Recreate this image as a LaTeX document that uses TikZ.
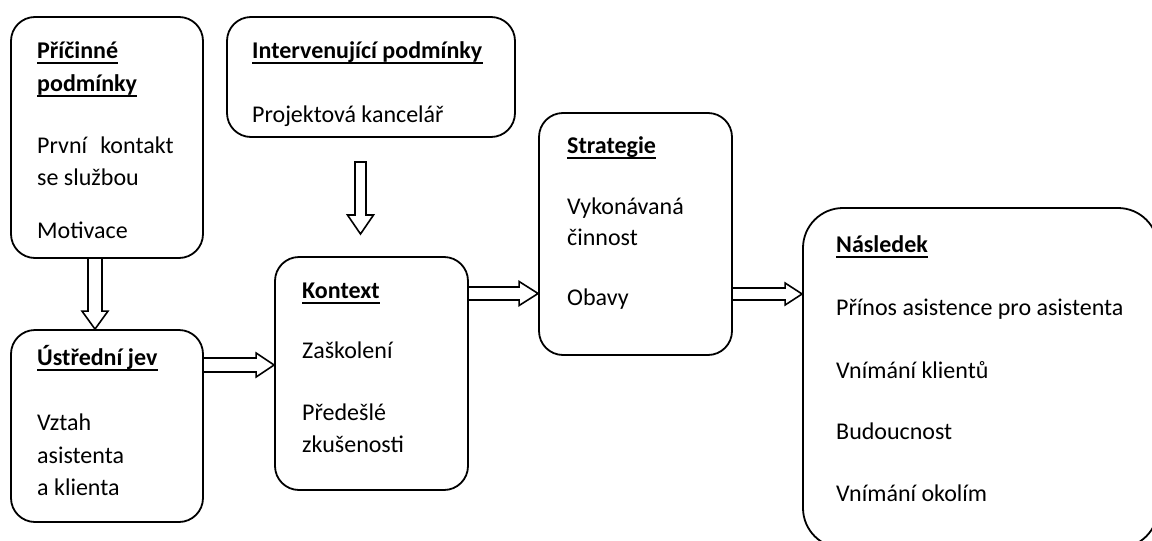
\documentclass[tikz,border=0pt]{standalone}
\usepackage{fontspec}
\setmainfont{Carlito}
\usetikzlibrary{calc}
\newcommand\ul[1]{\draw[uline] ($(#1.base west)+(0,4.5)$) -- ($(#1.base east)+(0,4.5)$);}
\newcommand\varrow[5]{%
  \draw[blk] ($(#1)+(-#3,0)$) -- ($(#2)+(-#3,-#5)$) -- ($(#2)+(-#4,-#5)$) -- (#2)
    -- ($(#2)+(#4,-#5)$) -- ($(#2)+(#3,-#5)$) -- ($(#1)+(#3,0)$);}
\newcommand\harrow[5]{%
  \draw[blk] ($(#1)+(0,-#3)$) -- ($(#2)+(-#5,-#3)$) -- ($(#2)+(-#5,-#4)$) -- (#2)
    -- ($(#2)+(-#5,#4)$) -- ($(#2)+(-#5,#3)$) -- ($(#1)+(0,#3)$);}
\tikzset{
  box/.style={draw, line width=1.8pt, rounded corners=24pt, inner sep=0pt, fill=white},
  txt/.style={anchor=base west, inner sep=0pt, font=\fontsize{24}{29}\selectfont},
  hdtxt/.style={txt, font=\fontsize{24}{29}\selectfont\bfseries},
  uline/.style={line width=2pt},
  blk/.style={draw, line width=1.6pt, line join=miter},
}
\begin{document}
\begin{tikzpicture}[x=1pt,y=-1pt]
\useasboundingbox (0,0) rectangle (1152,541);
\fill[white] (0,0) rectangle (1152,541);
\clip (0,0) rectangle (1152,541);

% boxes
\node[box, minimum width=192pt, minimum height=241pt] (c1) at (107,137.5) {};
\node[box, minimum width=192pt, minimum height=192pt] (c2) at (107,426) {};
\node[box, minimum width=288pt, minimum height=120pt] (iv) at (371,77) {};
\node[box, minimum width=193pt, minimum height=233pt] (k) at (371.5,373.5) {};
\node[box, minimum width=193pt, minimum height=242pt] (s) at (635.5,234) {};
\node[box, rounded corners=40pt, minimum width=355pt, minimum height=340pt] (n) at (980.5,378) {};

% texts
\node[hdtxt] (t11) at (37,58) {Příčinné};
\node[hdtxt] (t12) at (37,91) {podmínky};
\node[txt] (t13) at (37,153) {První\hspace{0.55em}kontakt};
\node[txt] (t14) at (37,185) {se službou};
\node[txt] (t15) at (37,238) {Motivace};

\node[hdtxt] (t21) at (37,365) {Ústřední jev};
\node[txt] (t22) at (37,430) {Vztah};
\node[txt] (t23) at (37,463) {asistenta};
\node[txt] (t24) at (37,495) {a klienta};

\node[hdtxt] (t31) at (252,58) {Intervenující podmínky};
\node[txt] (t32) at (252,122) {Projektová kancelář};

\node[hdtxt] (t41) at (302,298) {Kontext};
\node[txt] (t42) at (302,358) {Zaškolení};
\node[txt] (t43) at (302,420) {Předešlé};
\node[txt] (t44) at (302,452) {zkušenosti};

\node[hdtxt] (t51) at (567,153) {Strategie};
\node[txt] (t52) at (567,214) {Vykonávaná};
\node[txt] (t53) at (567,245) {činnost};
\node[txt] (t54) at (567,305) {Obavy};

\node[hdtxt] (t61) at (836,252) {Následek};
\node[txt] (t62) at (836,315) {Přínos asistence pro asistenta};
\node[txt] (t63) at (836,378) {Vnímání klientů};
\node[txt] (t64) at (836,439) {Budoucnost};
\node[txt] (t65) at (836,501) {Vnímání okolím};

% underlines of headings
\ul{t11} \ul{t12} \ul{t21} \ul{t31} \ul{t41} \ul{t51} \ul{t61}

% arrows
\coordinate (a1s) at ($(c1.south)+(-12,0)$);
\coordinate (a1t) at ($(c2.north)+(-12,0)$);
\varrow{a1s}{a1t}{7}{13}{18}

\coordinate (a2s) at ($(c2.east)+(0,-61)$);
\coordinate (a2t) at ($(k.west)+(0,-8.5)$);
\harrow{a2s}{a2t}{7}{12}{18}

\coordinate (a3s) at (360.5,162);
\coordinate (a3t) at (360.5,234);
\draw[blk] ($(a3s)+(-5.5,0)$) -- ($(a3t)+(-5.5,-19)$) -- ($(a3t)+(-13,-19)$) -- (a3t)
    -- ($(a3t)+(13,-19)$) -- ($(a3t)+(5.5,-19)$) -- ($(a3s)+(5.5,0)$) -- cycle;

\coordinate (a4s) at ($(k.east)+(0,-80)$);
\coordinate (a4t) at ($(s.west)+(0,59.5)$);
\harrow{a4s}{a4t}{6.5}{12}{19}

\coordinate (a5s) at ($(s.east)+(0,60)$);
\coordinate (a5t) at ($(n.west)+(0,-84)$);
\harrow{a5s}{a5t}{6}{11}{17}
\end{tikzpicture}
\end{document}
